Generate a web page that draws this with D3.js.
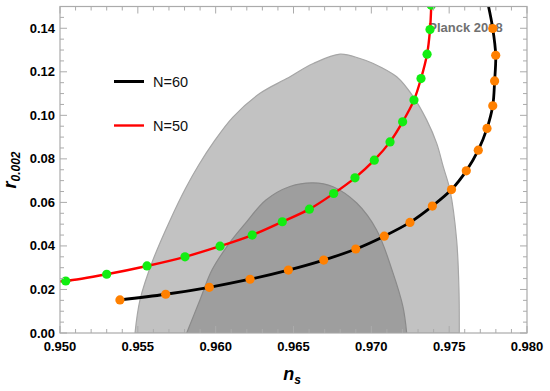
<!DOCTYPE html>
<html>
<head>
<meta charset="utf-8">
<script src="https://cdn.jsdelivr.net/npm/d3@7"></script>
<style>
  html, body { margin: 0; padding: 0; background: #fff; }
  svg { display: block; font-family: "Liberation Sans", Arial, sans-serif; }
</style>
</head>
<body>
<div class="chart-area"></div>
<script>
// N=60 attractor predictions (orange markers)
const n60Ns = [0.95385, 0.95679, 0.95959, 0.96221, 0.96467, 0.96694, 0.96900, 0.97083, 0.97248,
  0.97392, 0.97515, 0.97610, 0.97687, 0.97743, 0.97780, 0.97792, 0.97799, 0.97780];
const n60R = [0.0152, 0.0178, 0.0210, 0.0247, 0.0289, 0.0335, 0.0386, 0.0445, 0.0508,
  0.0583, 0.0659, 0.0745, 0.0840, 0.0940, 0.1044, 0.1158, 0.1276, 0.1399];
const n60Tail = [0.97750, 0.1510]; // curve keeps going past the frame

// N=50 predictions (green markers)
const n50Ns = [0.95037, 0.95300, 0.95559, 0.95803, 0.96028, 0.96235, 0.96428, 0.96602, 0.96758,
  0.96895, 0.97019, 0.97120, 0.97201, 0.97274, 0.97319, 0.97358, 0.97377, 0.97385];
const n50R = [0.0239, 0.0270, 0.0308, 0.0350, 0.0399, 0.0450, 0.0511, 0.0569, 0.0641,
  0.0713, 0.0794, 0.0878, 0.0970, 0.1070, 0.1169, 0.1281, 0.1394, 0.1506];
const n50Head = [0.9499, 0.0237];

// Planck 2018 contours (95% outer, 68% inner)
const outerNs = [0.95482, 0.95514, 0.95597, 0.95705, 0.95806, 0.95892, 0.95990, 0.96111,
  0.96285, 0.96456, 0.96627, 0.96799, 0.96927, 0.97013, 0.97163, 0.97270, 0.97356, 0.97420,
  0.97462, 0.97505, 0.97548, 0.97563, 0.97565];
const outerR = [0.0, 0.0152, 0.0335, 0.0515, 0.0664, 0.0773, 0.0880, 0.0992,
  0.1101, 0.1169, 0.1238, 0.1281, 0.1261, 0.1238, 0.1177, 0.1085, 0.0978, 0.0871,
  0.0764, 0.0657, 0.0427, 0.0197, 0.0];
const innerNs = [0.95814, 0.95899, 0.95976, 0.96079, 0.96188, 0.96323, 0.96477, 0.96625, 0.96754,
  0.96906, 0.97034, 0.97139, 0.97203, 0.97227];
const innerR = [0.0, 0.0152, 0.0289, 0.0404, 0.0501, 0.0611, 0.0673, 0.0690, 0.0672,
  0.0597, 0.0473, 0.0276, 0.0121, 0.0];

const xTicks = [0.950, 0.955, 0.960, 0.965, 0.970, 0.975, 0.980];
const yTicks = [0.00, 0.02, 0.04, 0.06, 0.08, 0.10, 0.12, 0.14];
const legendNames = ["N=60", "N=50"];
const legendColors = ["#000000", "#ff0000"];

const width = 550, height = 391;
const margin = { top: 6.5, right: 23, bottom: 58, left: 60 };
const innerWidth = width - margin.left - margin.right,
  innerHeight = height - margin.top - margin.bottom;

const svg = d3.select(".chart-area").append("svg")
  .attr("width", width).attr("height", height);

const g = svg.append("g")
  .attr("transform", `translate(${margin.left},${margin.top})`);

const x = d3.scaleLinear().domain([0.950, 0.980]).range([0, innerWidth]);
const y = d3.scaleLinear().domain([0, 0.15]).range([innerHeight, 0]);

g.append("clipPath").attr("id", "clip")
  .append("rect").attr("width", innerWidth).attr("height", innerHeight);

const zip = (a, b) => a.map((v, i) => [v, b[i]]);
const line = d3.line().x(d => x(d[0])).y(d => y(d[1])).curve(d3.curveCatmullRom.alpha(0.5));

const regions = g.append("g").attr("clip-path", "url(#clip)");

// contours
regions.append("path")
  .attr("d", line(zip(outerNs, outerR)) + "Z")
  .attr("fill", "#c2c2c2").attr("stroke", "#a6a6a6").attr("stroke-width", 1.2);
regions.append("path")
  .attr("d", line(zip(innerNs, innerR)) + "Z")
  .attr("fill", "#9e9e9e").attr("stroke", "#8a8a8a").attr("stroke-width", 1.2);

// label sits under the curves, like in the original
g.append("text")
  .attr("x", x(0.97385) - 3).attr("y", y(0.1405) + 4.5)
  .attr("font-size", 13).attr("font-weight", "bold").attr("fill", "#707070")
  .text("Planck 2018");

const plot = g.append("g").attr("clip-path", "url(#clip)");

// N=60
plot.append("path")
  .attr("d", line(zip(n60Ns, n60R).concat([n60Tail])))
  .attr("fill", "none").attr("stroke", "#000").attr("stroke-width", 2.8);
plot.append("g").selectAll("circle")
  .data(zip(n60Ns, n60R)).enter().append("circle")
  .attr("cx", d => x(d[0])).attr("cy", d => y(d[1])).attr("r", 4.6)
  .attr("fill", "#ff8000");

// N=50
plot.append("path")
  .attr("d", line([n50Head].concat(zip(n50Ns, n50R))))
  .attr("fill", "none").attr("stroke", "#ff0000").attr("stroke-width", 2.4);
plot.append("g").selectAll("circle")
  .data(zip(n50Ns, n50R)).enter().append("circle")
  .attr("cx", d => x(d[0])).attr("cy", d => y(d[1])).attr("r", 4.6)
  .attr("fill", "#11ee11");

// frame with ticks on all four sides
const frameColor = "#ababab";
const xMinor = d3.range(0.950, 0.9805, 0.001);
const yMinor = d3.range(0, 0.1505, 0.005);
const isMajor = (v, step) => Math.abs(v / step - Math.round(v / step)) < 1e-6;

const ticks = g.append("g").attr("stroke", frameColor).attr("stroke-width", 1);
xMinor.forEach(v => {
  const len = isMajor(v, 0.005) ? 7 : 4;
  ticks.append("line").attr("x1", x(v)).attr("x2", x(v)).attr("y1", innerHeight).attr("y2", innerHeight - len);
  ticks.append("line").attr("x1", x(v)).attr("x2", x(v)).attr("y1", 0).attr("y2", len);
});
yMinor.forEach(v => {
  const len = isMajor(v, 0.02) ? 7 : 4;
  ticks.append("line").attr("y1", y(v)).attr("y2", y(v)).attr("x1", 0).attr("x2", len);
  ticks.append("line").attr("y1", y(v)).attr("y2", y(v)).attr("x1", innerWidth).attr("x2", innerWidth - len);
});
g.append("rect").attr("width", innerWidth).attr("height", innerHeight)
  .attr("fill", "none").attr("stroke", frameColor).attr("stroke-width", 1.2);

// tick labels
g.append("g").selectAll("text").data(xTicks).enter().append("text")
  .attr("x", d => x(d)).attr("y", innerHeight + 18)
  .attr("text-anchor", "middle").attr("font-size", 13).attr("font-weight", "bold")
  .text(d => d3.format(".3f")(d));
g.append("g").selectAll("text").data(yTicks).enter().append("text")
  .attr("x", -5).attr("y", d => y(d)).attr("dy", "0.35em")
  .attr("text-anchor", "end").attr("font-size", 13).attr("font-weight", "bold")
  .text(d => d3.format(".2f")(d));

// axis titles
const xt = svg.append("text")
  .attr("x", 292).attr("y", 380).attr("text-anchor", "middle")
  .attr("font-size", 18).attr("font-weight", "bold").attr("font-style", "italic");
xt.append("tspan").text("n");
xt.append("tspan").attr("font-size", 12).attr("dy", 4).text("s");

const yt = svg.append("text")
  .attr("transform", "translate(16,170) rotate(-90)").attr("text-anchor", "middle")
  .attr("font-size", 18).attr("font-weight", "bold").attr("font-style", "italic");
yt.append("tspan").text("r");
yt.append("tspan").attr("font-size", 12).attr("dy", 4).text("0.002");

// legend
const legend = svg.append("g").selectAll("g")
  .data(legendNames).enter().append("g")
  .attr("transform", (d, i) => `translate(114,${81.5 + i * 44})`);
legend.append("line").attr("x1", 0).attr("x2", 30)
  .attr("stroke", (d, i) => legendColors[i]).attr("stroke-width", (d, i) => i === 0 ? 3 : 2.4);
legend.append("text").attr("x", 39).attr("dy", "0.36em")
  .attr("font-size", 14.5).attr("fill", "#111").text(d => d);
</script>
</body>
</html>
